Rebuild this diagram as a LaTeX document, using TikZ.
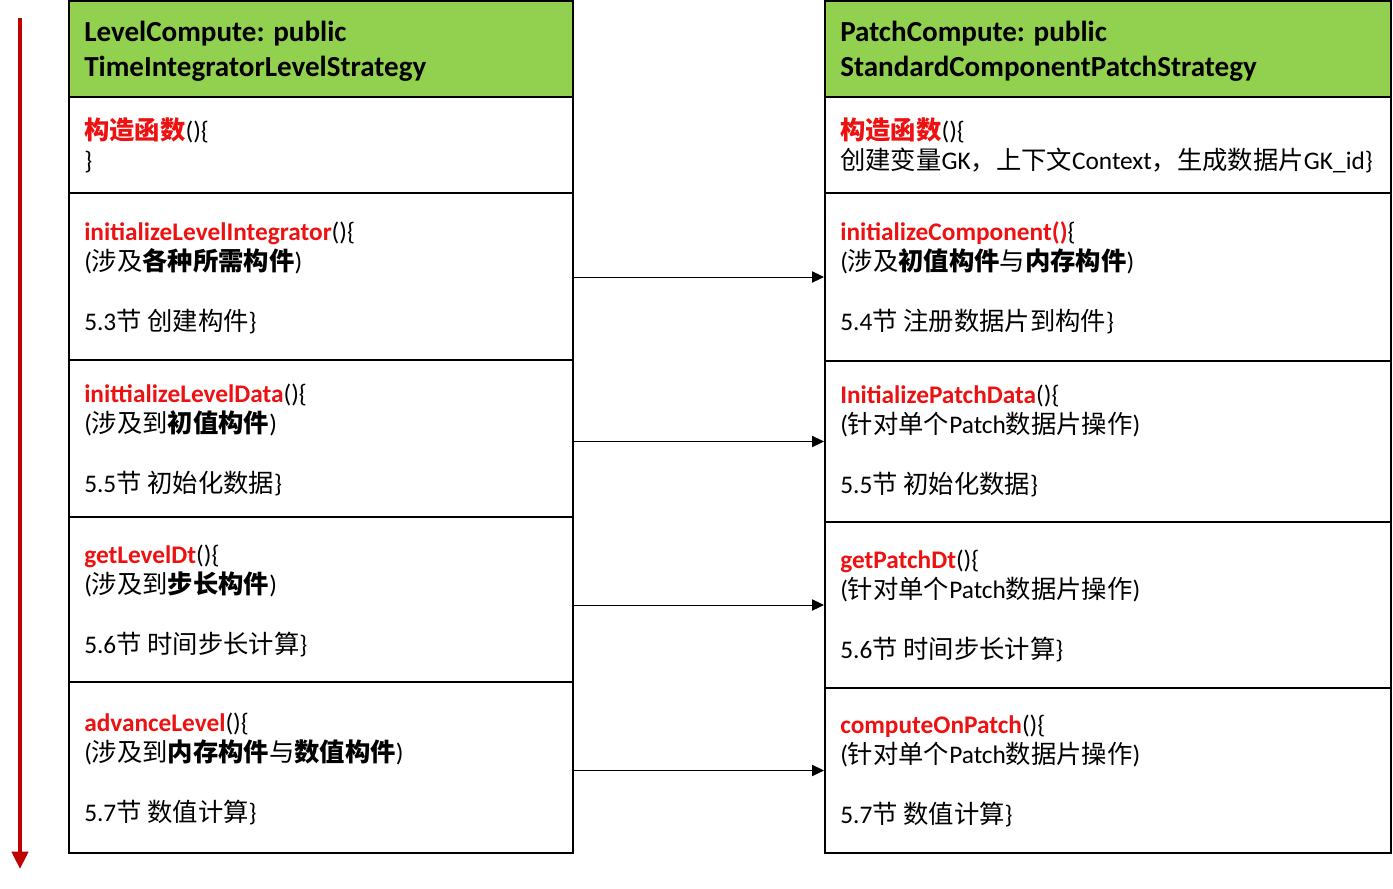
\documentclass[tikz,border=0pt]{standalone}
\usepackage{fontspec}
\setmainfont{Carlito}
\newfontfamily\cjk{Noto Sans CJK SC}
\usetikzlibrary{arrows.meta,fit}
\definecolor{hdrgreen}{HTML}{92D050}
\definecolor{fnred}{HTML}{EE1111}
\definecolor{timered}{HTML}{C00000}
\newcommand\zh[1]{{\cjk #1}}
\newcommand\zb[1]{{\cjk\bfseries #1}}
\newcommand\fn[1]{\textcolor{fnred}{\bfseries #1}}
\newcommand\fz[1]{\textcolor{fnred}{\cjk\bfseries #1}}
\begin{document}
\begin{tikzpicture}[x=0.75pt,y=-0.75pt,
  cell/.style={draw=black, line width=1.5pt, inner sep=0pt},
  hdr/.style={cell, fill=hdrgreen},
  txt/.style={anchor=base west, align=left, inner sep=0pt, font=\fontsize{19}{22.5}\selectfont},
  htxt/.style={anchor=base west, align=left, inner sep=0pt, font=\fontsize{21.8}{26.25}\selectfont\bfseries},
  link/.style={-{Triangle[length=9pt,width=8.5pt]}, line width=0.75pt, black},
  timeline/.style={-{Triangle[length=13pt,width=12pt]}, line width=3pt, timered}
]
\useasboundingbox (0,0) rectangle (1393,889);

% left column cells
\node[hdr,  fit={(69,1) (573,97)}]    (LH) {};
\node[cell, fit={(69,97) (573,193)}]  (L0) {};
\node[cell, fit={(69,193) (573,360)}] (L1) {};
\node[cell, fit={(69,360) (573,517)}] (L2) {};
\node[cell, fit={(69,517) (573,682)}] (L3) {};
\node[cell, fit={(69,682) (573,853)}] (L4) {};

% right column cells
\node[hdr,  fit={(825,1) (1391,97)}]    (RH) {};
\node[cell, fit={(825,97) (1391,193)}]  (R0) {};
\node[cell, fit={(825,193) (1391,361)}] (R1) {};
\node[cell, fit={(825,361) (1391,522)}] (R2) {};
\node[cell, fit={(825,522) (1391,688)}] (R3) {};
\node[cell, fit={(825,688) (1391,853)}] (R4) {};

% header texts (anchor = baseline of last line)
\node[htxt] (LHt) at (84,76) {LevelCompute: public\\TimeIntegratorLevelStrategy};
\node[htxt] (RHt) at (840,76) {PatchCompute: public\\StandardComponentPatchStrategy};

% left texts
\node[txt] (L0t) at (84,169) {\fz{构造函数}()\{\\\}};
\node[txt] (L1t) at (84,330) {\fn{initializeLevelIntegrator}()\{\\(\zh{涉及}\zb{各种所需构件})\\[22.5pt]5.3\zh{节 创建构件}\}};
\node[txt] (L2t) at (84,492) {\fn{inittializeLevelData}()\{\\(\zh{涉及到}\zb{初值构件})\\[22.5pt]5.5\zh{节 初始化数据}\}};
\node[txt] (L3t) at (84,653) {\fn{getLevelDt}()\{\\(\zh{涉及到}\zb{步长构件})\\[22.5pt]5.6\zh{节 时间步长计算}\}};
\node[txt] (L4t) at (84,821) {\fn{advanceLevel}()\{\\(\zh{涉及到}\zb{内存构件}\zh{与}\zb{数值构件})\\[22.5pt]5.7\zh{节 数值计算}\}};

% right texts
\node[txt] (R0t) at (840,169) {\fz{构造函数}()\{\\\zh{创建变量}GK\zh{，上下文}Context\zh{，生成数据片}GK\_id\}};
\node[txt] (R1t) at (840,330) {\fn{initializeComponent()}\{\\(\zh{涉及}\zb{初值构件}\zh{与}\zb{内存构件})\\[22.5pt]5.4\zh{节 注册数据片到构件}\}};
\node[txt] (R2t) at (840,493) {\fn{InitializePatchData}()\{\\(\zh{针对单个}Patch\zh{数据片操作})\\[22.5pt]5.5\zh{节 初始化数据}\}};
\node[txt] (R3t) at (840,658) {\fn{getPatchDt}()\{\\(\zh{针对单个}Patch\zh{数据片操作})\\[22.5pt]5.6\zh{节 时间步长计算}\}};
\node[txt] (R4t) at (840,823) {\fn{computeOnPatch}()\{\\(\zh{针对单个}Patch\zh{数据片操作})\\[22.5pt]5.7\zh{节 数值计算}\}};

% connectors
\draw[link] (R1.west -| L1.east) -- (R1.west);
\draw[link] (R2.west -| L2.east) -- (R2.west);
\draw[link] (R3.west -| L3.east) -- (R3.west);
\draw[link] (R4.west -| L4.east) -- (R4.west);

% time arrow
\coordinate (ts) at (20,18);
\coordinate (te) at (20,869);
\draw[timeline] (ts) -- (te);
\end{tikzpicture}
\end{document}
